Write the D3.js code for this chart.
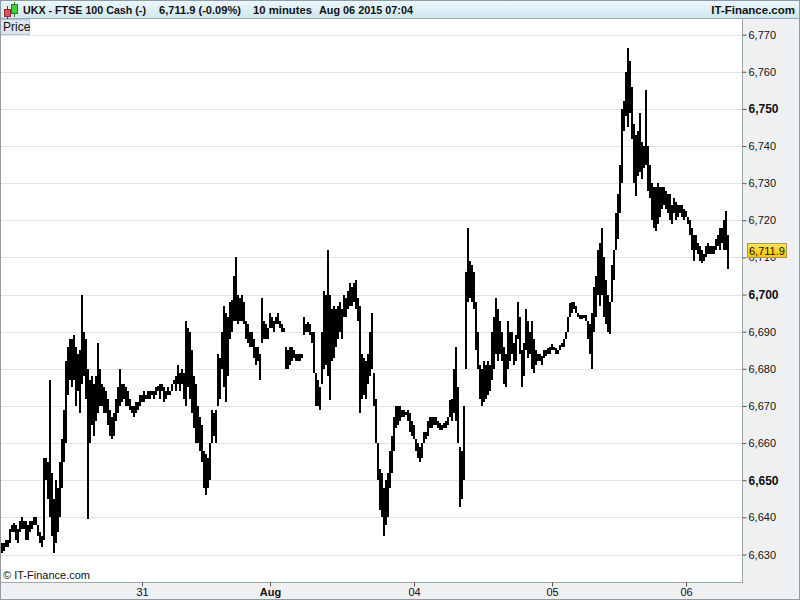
<!DOCTYPE html>
<html><head><meta charset="utf-8">
<script src="https://cdn.jsdelivr.net/npm/d3@7/dist/d3.min.js"></script>
<style>
html,body{margin:0;padding:0;background:#fff;}
svg{display:block;font-family:"Liberation Sans",Arial,sans-serif;}
</style></head>
<body>
<svg id="chart" width="800" height="600"></svg>
<script>
// ---- data (10-minute bars, aggregated to 2 columns each): [low, high] ----
const priceRanges = [
[6630.5,6633],[6631,6633],[6632,6634],[6632,6634],[6633,6637],[6636,6638],[6636,6638.5],[6634,6638],[6633,6637],[6636,6639],
[6637,6640],[6637,6639],[6634,6639],[6634,6638],[6636,6639],[6637,6639],[6638,6640],[6638,6640],[6635,6638],[6633,6636],
[6632,6635],[6634,6656],[6650,6656],[6645,6655],[6640,6677],[6635,6652],[6630.3,6645],[6633,6650],[6636,6648],[6640,6655],
[6648,6661],[6655,6669],[6660,6682],[6673,6686],[6677,6688],[6675,6688],[6677,6689],[6670,6686],[6674,6684],[6668,6685],
[6676,6700],[6678,6690],[6672,6688],[6639.5,6680],[6660,6677],[6665,6678],[6662,6676],[6666,6678],[6668,6687],[6670,6680],
[6670,6676],[6668,6675],[6668,6674],[6665,6672],[6662,6669],[6661,6667],[6662,6668],[6666,6672],[6668,6675],[6670,6680],
[6671,6676],[6672,6676],[6670,6675],[6670,6674],[6669,6672],[6668,6670],[6667,6670],[6668,6671],[6669,6671],[6670,6673],
[6671,6673],[6671,6674],[6672,6673],[6672,6674],[6672,6674],[6673,6674],[6672,6674],[6673,6675],[6674,6675.5],[6672,6676],
[6674,6676],[6671,6675],[6672,6674],[6673,6675],[6673,6674],[6674,6676],[6676,6677],[6674,6678],[6676,6681],[6674,6679],
[6676,6680],[6672,6679],[6670,6693],[6675,6691],[6672,6690],[6668,6685],[6664,6678],[6660,6676],[6660,6670],[6658,6667],
[6655,6665],[6648,6658],[6646,6657],[6648,6656],[6650,6660],[6660,6669],[6662,6668],[6660,6669],[6670,6684],[6672,6683],
[6680,6690],[6675,6697],[6671,6695],[6678,6694],[6688,6698],[6690,6698.5],[6693,6705],[6693,6710],[6692,6700],[6693,6699],
[6693,6700],[6692,6698],[6688,6693],[6687,6692],[6686,6690],[6686,6690],[6683,6688],[6681,6686],[6682,6686],[6677,6684],
[6687,6699],[6688,6693],[6688,6692],[6688,6691],[6691,6695],[6691,6694],[6690,6693],[6692,6694],[6692,6695],[6691,6693],
[6690,6692],[6690,6691],[6680,6686],[6680,6685],[6681,6686],[6682,6686],[6683,6685],[6682,6684],[6682,6684],[6682,6684],
[6683,6684],[6689,6694],[6690,6692],[6690,6692.5],[6689,6692],[6687,6690],[6679,6690],[6670,6679],[6670,6677],[6669,6675],
[6676,6690],[6680,6701],[6681,6700],[6678,6712],[6671.5,6700],[6682,6696],[6683,6697],[6686,6696],[6688,6697],[6690,6698],
[6688,6696],[6694,6700],[6694,6699],[6696,6701],[6697,6703],[6697,6702],[6698,6703],[6696,6704],[6693,6699],[6668,6697],
[6672,6684],[6673,6683],[6672,6682],[6676,6684],[6678,6690],[6680,6695],[6670,6679],[6660,6672],[6650,6660],[6642,6653],
[6640,6652],[6635,6648],[6638,6650],[6640,6652],[6648,6658],[6652,6662],[6658,6667],[6664,6670],[6665,6670],[6666,6670],
[6667,6669],[6667,6669],[6667.5,6668.5],[6666,6669],[6663,6668],[6662,6666],[6661,6665],[6658,6661],[6656,6660],[6655,6659],
[6656,6660],[6660,6663],[6661,6663],[6662,6666],[6664,6667],[6664,6667],[6665,6667],[6665,6667],[6664,6666],[6663.5,6665.5],
[6663.5,6665],[6664,6665.5],[6664,6666],[6665,6667],[6667,6671.5],[6666,6672],[6668,6680],[6666,6686],[6660,6675],[6642.8,6659],
[6645,6658],[6650,6670],[6680,6706],[6698,6718],[6699,6709],[6698,6708],[6696,6706],[6685,6698],[6680,6690],[6672,6681],
[6670,6680],[6671,6682],[6672,6681],[6673,6682],[6674,6681],[6677,6690],[6680,6694],[6684,6699],[6682,6696],[6684,6693],
[6682,6690],[6676,6686],[6675,6684],[6680,6693],[6682,6690],[6684,6690],[6681,6687],[6682,6689],[6688,6698],[6684,6694],
[6675,6685],[6678,6687],[6685,6696],[6683,6693],[6684,6690],[6680,6693],[6679,6688],[6681,6685],[6682,6684],[6682,6684],
[6681,6683.5],[6683,6685],[6683.5,6685],[6684,6685.5],[6684,6686],[6685,6686.6],[6685,6686],[6684,6685.5],[6684,6685],[6685,6686.5],
[6686,6687],[6686,6688],[6688,6690],[6690,6694],[6694,6697.6],[6695,6698],[6696,6698],[6695,6697],[6694,6695],[6693.5,6694.5],
[6693.5,6694.5],[6693.6,6694.5],[6693,6694.5],[6688,6693],[6684,6692],[6680,6695],[6690,6702],[6694,6705],[6700,6712],[6697,6714],
[6700,6718],[6694,6710],[6692,6704],[6690,6700],[6689.5,6698],[6698,6708],[6704,6712],[6712,6722],[6715,6727],[6722,6735],
[6730,6750],[6744,6752],[6748,6760],[6745,6766.5],[6749,6763],[6742,6756],[6730,6746],[6726.5,6743],[6732,6744],[6733,6749],
[6731,6741],[6734,6740],[6735,6755],[6728,6740],[6726,6735],[6720,6730],[6718,6729],[6717,6729],[6719,6730],[6721,6729],
[6723,6729],[6724,6729],[6723,6728],[6722,6727],[6720,6727],[6719,6724],[6722,6726],[6720,6725],[6721,6724],[6722,6724],
[6721,6724],[6720,6723],[6721,6722.5],[6719,6721],[6716,6720],[6712,6718],[6709,6716],[6712,6716],[6711,6714],[6709,6713],
[6708.5,6712],[6709,6711],[6710,6713],[6711,6714],[6711,6713],[6711,6713],[6711,6713],[6712,6715],[6713,6716],[6712,6718],
[6714,6718],[6712,6720],[6712,6722.4],[6707,6716]
];
const yTicks = [6630,6640,6650,6660,6670,6680,6690,6700,6710,6720,6730,6740,6750,6760,6770];
const dayLabels = ["31","Aug","04","05","06"];
const dayBars = [70,134,206,275,342];
const lastPrice = 6711.9;
const titleParts = ["UKX - FTSE 100 Cash (-)","6,711.9 (-0.09%)","10 minutes","Aug 06 2015 07:04"];

// ---- drawing ----
const W = 800, H = 600;
const plotL = 1, plotR = 742, plotT = 19, plotB = 582;
const svg = d3.select("#chart");

const defs = svg.append("defs");
const hg = defs.append("linearGradient").attr("id","hdr").attr("x1",0).attr("y1",0).attr("x2",0).attr("y2",1);
hg.append("stop").attr("offset","0%").attr("stop-color","#eef8fc");
hg.append("stop").attr("offset","100%").attr("stop-color","#cde6f0");
const yg = defs.append("linearGradient").attr("id","ylw").attr("x1",0).attr("y1",0).attr("x2",0).attr("y2",1);
yg.append("stop").attr("offset","0%").attr("stop-color","#ffe45a");
yg.append("stop").attr("offset","100%").attr("stop-color","#f5c400");

// background panels
svg.append("rect").attr("x",0).attr("y",0).attr("width",W).attr("height",H).attr("fill","#eef0f2");
svg.append("rect").attr("x",plotL).attr("y",plotT).attr("width",plotR-plotL).attr("height",plotB-plotT).attr("fill","#fff");

// header
svg.append("rect").attr("x",0).attr("y",0).attr("width",W).attr("height",19).attr("fill","url(#hdr)");
svg.append("line").attr("x1",0).attr("x2",W).attr("y1",18.5).attr("y2",18.5).attr("stroke","#9aa8b2");

// icon: two candles
svg.append("line").attr("x1",7.5).attr("x2",7.5).attr("y1",6).attr("y2",19).attr("stroke","#8a3030");
svg.append("rect").attr("x",4.5).attr("y",9.5).attr("width",6).attr("height",7).attr("fill","#e05050").attr("stroke","#8a3030");
svg.append("line").attr("x1",14.5).attr("x2",14.5).attr("y1",2).attr("y2",17).attr("stroke","#2a7a2a");
svg.append("rect").attr("x",11.5).attr("y",4.5).attr("width",6).attr("height",9).attr("fill","#40d040").attr("stroke","#2a7a2a");

const hx = [23,159,253,319];
const hw = [123,82,59,94];
titleParts.forEach((t,i)=>{
  svg.append("text").attr("x",hx[i]).attr("y",14).attr("font-size",11.5).attr("font-weight","bold").attr("fill","#111")
    .attr("textLength",hw[i]).attr("lengthAdjust","spacingAndGlyphs").text(t);
});
svg.append("text").attr("x",795).attr("y",14).attr("text-anchor","end").attr("font-size",11.5).attr("font-weight","bold").attr("fill","#111").text("IT-Finance.com");

// scales
const y = d3.scaleLinear().domain([6630,6770]).range([554.5,34.6]);
const x = d3.scaleLinear().domain([0, priceRanges.length-1]).range([2,728]);

// gridlines
svg.append("g").selectAll("line").data(yTicks).join("line")
  .attr("x1",plotL).attr("x2",plotR)
  .attr("y1",d=>Math.round(y(d))+0.5).attr("y2",d=>Math.round(y(d))+0.5)
  .attr("stroke","#e2e2e2").attr("stroke-width",1);

// "Price" tab
svg.append("rect").attr("x",0.5).attr("y",19.5).attr("width",29).attr("height",15).attr("fill","#dde6ee").attr("stroke","#b8c4cc");
svg.append("text").attr("x",3).attr("y",31).attr("font-size",12).attr("fill","#111").text("Price");

// bars
svg.append("g").selectAll("rect").data(priceRanges).join("rect")
  .attr("x",(d,i)=>Math.round(x(i))-1)
  .attr("width",2)
  .attr("y",d=>Math.round(y(d[1])))
  .attr("height",d=>Math.max(1, Math.round(y(d[0]))-Math.round(y(d[1]))))
  .attr("fill","#000");

// frame lines
svg.append("line").attr("x1",plotR+0.5).attr("x2",plotR+0.5).attr("y1",plotT).attr("y2",plotB).attr("stroke","#9aa8b2");
svg.append("line").attr("x1",0).attr("x2",plotR+1).attr("y1",plotB+0.5).attr("y2",plotB+0.5).attr("stroke","#9aa8b2");

// y axis
const yAxis = d3.axisRight(y).tickValues(yTicks).tickFormat(d3.format(",")).tickSize(4).tickPadding(2);
const gy = svg.append("g").attr("transform",`translate(${plotR+0.5},0)`).call(yAxis);
gy.select(".domain").remove();
gy.selectAll(".tick line").attr("stroke","#555");
gy.selectAll(".tick text").attr("fill","#111")
  .attr("font-family","Liberation Sans, Arial, sans-serif")
  .attr("font-weight",d=>d%50===0?"bold":"normal")
  .attr("font-size",d=>d%50===0?12:11);

// last price marker
const ly = y(lastPrice);
svg.append("rect").attr("x",747.5).attr("y",Math.round(ly)-6.5).attr("width",39).attr("height",14).attr("fill","url(#ylw)").attr("stroke","#a89a50");
svg.append("text").attr("x",749).attr("y",Math.round(ly)+4.5).attr("font-size",11).attr("fill","#111").text(d3.format(",.1f")(lastPrice));

// x axis
const xAxis = d3.axisBottom(x).tickValues(dayBars).tickFormat((d,i)=>dayLabels[i]).tickSize(4).tickPadding(2);
const gx = svg.append("g").attr("transform",`translate(0,${plotB+0.5})`).call(xAxis);
gx.select(".domain").remove();
gx.selectAll(".tick line").attr("stroke","#555");
gx.selectAll(".tick text").attr("font-size",11).attr("fill","#111")
  .attr("font-family","Liberation Sans, Arial, sans-serif")
  .attr("font-weight",(d,i)=>dayLabels[i]==="Aug"?"bold":"normal");

// copyright
svg.append("text").attr("x",3).attr("y",579).attr("font-size",11).attr("fill","#111").text("© IT-Finance.com");

// outer border
svg.append("rect").attr("x",0.5).attr("y",0.5).attr("width",W-1).attr("height",H-1).attr("fill","none").attr("stroke","#8c9ba5");
</script>
</body></html>
